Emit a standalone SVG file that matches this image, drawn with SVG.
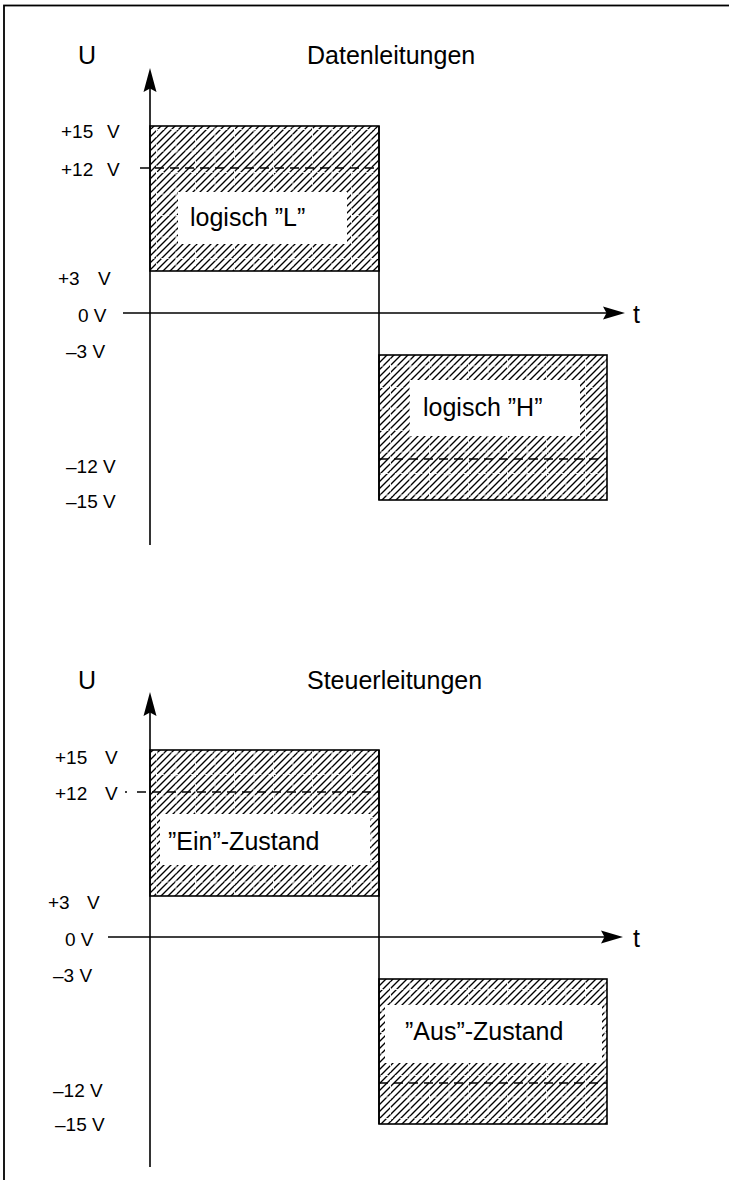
<svg xmlns="http://www.w3.org/2000/svg" width="729" height="1180" viewBox="0 0 729 1180">
<style>
.lbl{font-family:"Liberation Sans",Arial,sans-serif;font-size:19px;fill:#000}
.big{font-family:"Liberation Sans",Arial,sans-serif;font-size:25px;fill:#000}
.box{fill:url(#hatch);stroke:#000;stroke-width:1.6}
.grid{fill:url(#grid);stroke:none}
.inner{fill:#fff;stroke:none}
.axis{stroke:#000;stroke-width:1.6;fill:none}
.dash{stroke:#000;stroke-width:1.3;stroke-dasharray:9,6;fill:none}
.head{fill:#000}
</style>
<defs>
<pattern id="hatch" patternUnits="userSpaceOnUse" width="7" height="7">
<rect width="7" height="7" fill="#fff"/>
<path d="M-1.75,1.75 L1.75,-1.75 M0,7 L7,0 M5.25,8.75 L8.75,5.25" stroke="#000" stroke-width="1.35"/>
</pattern>
<pattern id="grid" patternUnits="userSpaceOnUse" width="19.5" height="21.5">
<path d="M0.5,0 V21.5 M0,0.5 H19.5" stroke="#fff" stroke-width="0.9" stroke-dasharray="3,2"/>
</pattern>
</defs>
<rect id="frame" x="4" y="5.5" width="740" height="1190" fill="none" stroke="#000" stroke-width="1.8"/>

<!-- Top diagram: Datenleitungen -->
<g id="top-title">
<text class="big" x="78" y="64">U</text>
<text class="big" x="307" y="64">Datenleitungen</text>
</g>
<g id="top-box-L">
<rect class="box" x="150" y="126" width="229" height="145"/>
<rect class="grid" x="151" y="127" width="227" height="143"/>
<rect class="inner" x="178" y="192" width="169" height="52"/>
<text class="big" x="190" y="226">logisch ”L”</text>
</g>
<g id="top-box-H">
<rect class="box" x="379" y="355" width="228" height="145"/>
<rect class="grid" x="380" y="356" width="226" height="143"/>
<rect class="inner" x="410" y="380" width="170" height="56"/>
<text class="big" x="423" y="416">logisch ”H”</text>
</g>
<g id="top-labels">
<text class="lbl" x="61" y="138">+15 <tspan x="107">V</tspan></text>
<text class="lbl" x="61" y="176">+12 <tspan x="107">V</tspan></text>
<text class="lbl" x="58" y="285">+3 <tspan x="98">V</tspan></text>
<text class="lbl" x="78" y="322">0 V</text>
<text class="lbl" x="66" y="358">–3 V</text>
<text class="lbl" x="66" y="473">–12 V</text>
<text class="lbl" x="66" y="508">–15 V</text>
<text class="big" x="633" y="323">t</text>
</g>
<g id="top-connectors">
<line class="axis" x1="150" y1="86" x2="150" y2="545"/>
<path class="head" d="M150,68 L156.5,92 L150,88.5 L143.5,92 Z"/>
<line class="axis" x1="123" y1="313" x2="608" y2="313"/>
<path class="head" d="M625,313 L603,306.5 L606.5,313 L603,319.5 Z"/>
<line class="axis" x1="379" y1="126" x2="379" y2="500"/>
<line class="dash" x1="140" y1="168" x2="379" y2="168"/>
<line class="dash" x1="379" y1="459" x2="607" y2="459"/>
</g>

<!-- Bottom diagram: Steuerleitungen -->
<g id="bottom-title">
<text class="big" x="78" y="689">U</text>
<text class="big" x="307" y="689">Steuerleitungen</text>
</g>
<g id="bottom-box-ein">
<rect class="box" x="150" y="750" width="229" height="146"/>
<rect class="grid" x="151" y="751" width="227" height="144"/>
<rect class="inner" x="160" y="814" width="210" height="51"/>
<text class="big" x="168" y="850">”Ein”-Zustand</text>
</g>
<g id="bottom-box-aus">
<rect class="box" x="379" y="979" width="228" height="145"/>
<rect class="grid" x="380" y="980" width="226" height="143"/>
<rect class="inner" x="385" y="1005" width="217" height="58"/>
<text class="big" x="405" y="1040">”Aus”-Zustand</text>
</g>
<g id="bottom-labels">
<text class="lbl" x="55" y="764">+15 <tspan x="105">V</tspan></text>
<text class="lbl" x="55" y="800">+12 <tspan x="105">V</tspan></text>
<text class="lbl" x="48" y="909">+3 <tspan x="87">V</tspan></text>
<text class="lbl" x="65" y="946">0 V</text>
<text class="lbl" x="53" y="982">–3 V</text>
<text class="lbl" x="53" y="1097">–12 V</text>
<text class="lbl" x="55" y="1131">–15 V</text>
<text class="big" x="633" y="947">t</text>
</g>
<g id="bottom-connectors">
<line class="axis" x1="150" y1="710" x2="150" y2="1167"/>
<path class="head" d="M150,692 L156.5,716 L150,712.5 L143.5,716 Z"/>
<line class="axis" x1="108" y1="937" x2="606" y2="937"/>
<path class="head" d="M623,937 L601,930.5 L604.5,937 L601,943.5 Z"/>
<line class="axis" x1="379" y1="750" x2="379" y2="1124"/>
<line x1="125" y1="792" x2="127" y2="792" stroke="#000" stroke-width="1.3"/>
<line class="dash" x1="137" y1="792" x2="379" y2="792"/>
<line class="dash" x1="379" y1="1083" x2="607" y2="1083"/>
</g>
</svg>
